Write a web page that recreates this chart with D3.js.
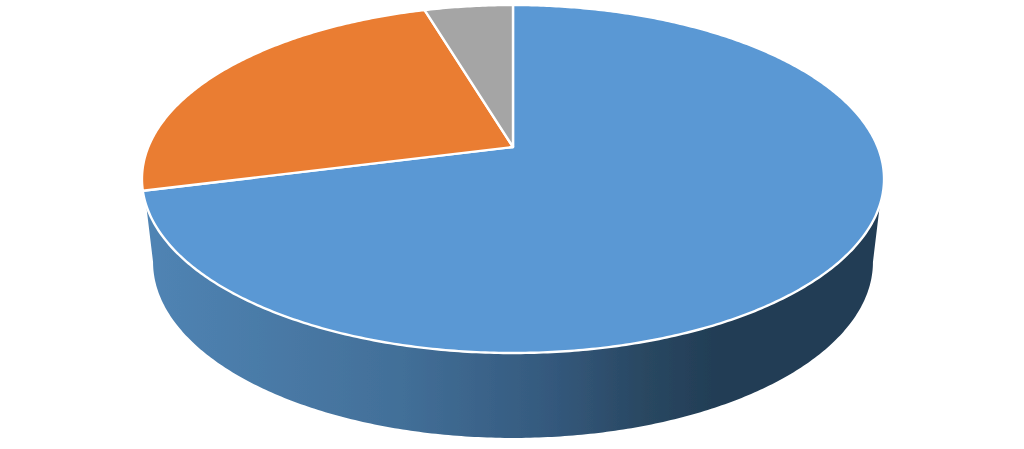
<!DOCTYPE html>
<html>
<head>
<meta charset="utf-8">
<style>
  html, body { margin: 0; padding: 0; background: #fff; }
  svg { display: block; }
</style>
<script src="https://cdnjs.cloudflare.com/ajax/libs/d3/7.8.5/d3.min.js"></script>
</head>
<body>
<svg id="chart" width="1024" height="449"></svg>
<script>
// slices, clockwise from twelve o'clock
const categories = ["A", "B", "C"];
const shares = [71.0, 24.4, 4.6];
const colors = ["#5a98d4", "#ea7d32", "#a5a5a5"];

const wallStops = [
  [0, "#5084b4"],
  [0.35, "#426f98"],
  [0.55, "#34597d"],
  [0.68, "#294761"],
  [0.78, "#223d55"],
  [1, "#213c54"]
];

const svg = d3.select("#chart");
const tilt = -0.184; // perspective of the disc

const x = d3.scaleLinear().domain([-1, 1]).range([513 - 364.7, 513 + 364.7]);
const y = d3.scaleLinear().domain([-1, 1]).range([147 - 168.1, 147 + 168.1]);

// lower rim is the same disc, a bit narrower and pushed down
const xLow = d3.scaleLinear().domain([-1, 1]).range([513 - 353.8, 513 + 353.8]);
const yLow = d3.scaleLinear().domain([-1, 1]).range([229.6 - 170, 229.6 + 170]);

function project(a, sx, sy) {
  const u = Math.sin(a), v = -Math.cos(a);
  const w = 1 + tilt * v;
  return [sx(u / w), sy(v / w)];
}

function arcPoints(a0, a1, sx, sy) {
  const n = Math.max(2, Math.ceil(Math.abs(a1 - a0) / 0.01));
  return d3.range(n + 1).map(i => project(a0 + (a1 - a0) * i / n, sx, sy));
}

const line = d3.line();
const deg = Math.PI / 180;

const defs = svg.append("defs");
const grad = defs.append("linearGradient")
  .attr("id", "wall")
  .attr("gradientUnits", "userSpaceOnUse")
  .attr("x1", 145).attr("x2", 882).attr("y1", 0).attr("y2", 0);
grad.selectAll("stop").data(wallStops).enter().append("stop")
  .attr("offset", d => d[0])
  .attr("stop-color", d => d[1]);

// reference is a slightly soft picture
defs.append("filter").attr("id", "soft")
  .append("feGaussianBlur").attr("stdDeviation", 0.4);

const g = svg.append("g").attr("filter", "url(#soft)");

// outer wall of the blue slice
const wall = arcPoints(109 * deg, 251 * deg, x, y)
  .concat(arcPoints(259.4 * deg, 100.6 * deg, xLow, yLow));
g.append("path")
  .attr("d", line(wall) + "Z")
  .attr("fill", "url(#wall)");

// top face
const pie = d3.pie().sort(null);
const slices = pie(shares);

g.selectAll(".slice")
  .data(slices)
  .enter().append("path")
  .attr("class", "slice")
  .attr("d", d => line([[x(0), y(0)]].concat(arcPoints(d.startAngle, d.endAngle, x, y))) + "Z")
  .attr("fill", (d, i) => colors[i])
  .attr("stroke", "#fff")
  .attr("stroke-width", 2.4)
  .attr("stroke-linejoin", "round")
  .append("title")
  .text((d, i) => categories[i]);
</script>
</body>
</html>
